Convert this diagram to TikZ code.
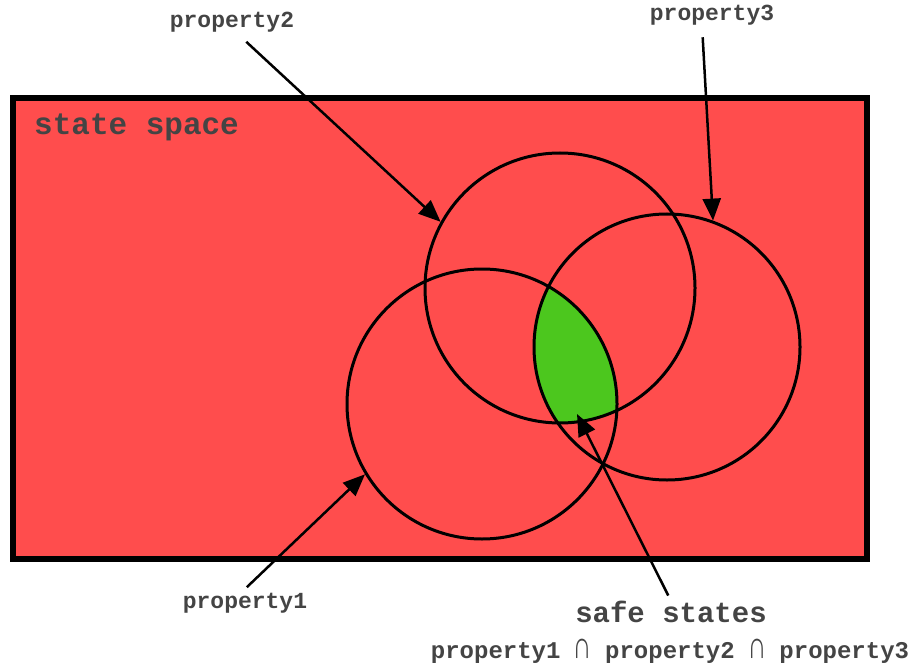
\documentclass[tikz,border=0pt]{standalone}
\usepackage{fontspec}
\setmonofont{Liberation Mono}
\usetikzlibrary{arrows.meta}
\definecolor{spacered}{HTML}{FF4D4D}
\definecolor{safegreen}{HTML}{4CC71E}
\definecolor{ink}{HTML}{444444}
\newcommand{\capsym}{\scalebox{1.1}[1.6]{∩}}
\tikzset{
  >={Triangle[length=22pt,width=18pt]},
  propc/.style={circle,draw,line width=3pt,inner sep=0pt},
  lab/.style={font=\ttfamily\bfseries\fontsize{23}{23}\selectfont,text=ink,inner sep=0pt},
  biglab/.style={lab,font=\ttfamily\bfseries\fontsize{30}{30}\selectfont},
  arr/.style={->,line width=2.5pt},
}
\begin{document}
\begin{tikzpicture}[x=1pt,y=-1pt]
\useasboundingbox (0,0) rectangle (912,668);
\node[draw,line width=6pt,fill=spacered,inner sep=0pt,minimum width=854pt,minimum height=461pt] (space) at (440,328.5) {};
\node[biglab,font=\ttfamily\bfseries\fontsize{31}{31}\selectfont,anchor=west] (spacelab) at (34,127) {state space};
% safe region = all three properties
\begin{scope}
\clip (482,404) circle[radius=135pt];
\clip (560,288) circle[radius=135pt];
\fill[safegreen] (667,347) circle[radius=133pt];
\end{scope}
\node[propc,minimum size=270pt] (c1) at (482,404) {};
\node[propc,minimum size=270pt] (c2) at (560,288) {};
\node[propc,minimum size=266pt] (c3) at (667,347) {};
\coordinate (safetip) at (577,414);
\node[lab] (l1) at (245,603) {property1};
\node[lab] (l2) at (232,22) {property2};
\node[lab] (l3) at (712,15) {property3};
\node[biglab,font=\ttfamily\bfseries\fontsize{29}{29}\selectfont] (safe) at (671,612) {safe states};
\node[lab,font=\ttfamily\bfseries\fontsize{24}{24}\selectfont] (inter) at (670,651) {property1 \capsym{} property2 \capsym{} property3};
\draw[arr,shorten <=8pt] ([xshift=-4pt]l1.north) -- (c1.211);
\draw[arr,shorten <=14pt] ([xshift=4pt]l2.south) -- (c2.151);
\draw[arr,shorten <=12pt] ([xshift=-10pt]l3.south) -- (c3.70);
\draw[arr,shorten <=6pt] (safe.north) -- (safetip);
\end{tikzpicture}
\end{document}
